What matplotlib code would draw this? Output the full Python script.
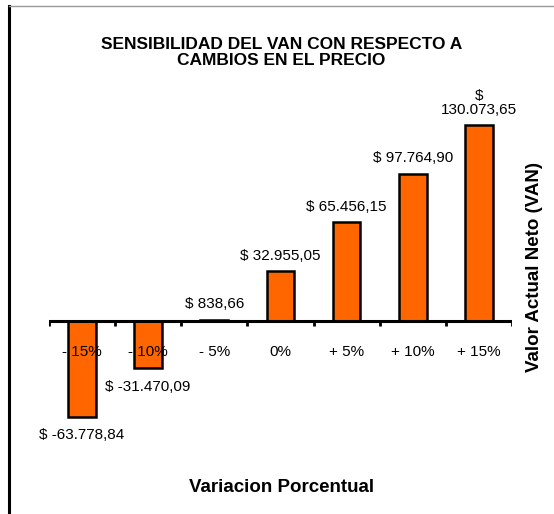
import matplotlib.pyplot as plt
import matplotlib.lines as mlines

plt.rcParams["font.family"] = ["Liberation Sans", "DejaVu Sans"]

categories = ["- 15%", "- 10%", "- 5%", "0%", "+ 5%", "+ 10%", "+ 15%"]
van_values = [-63778.84, -31470.09, 838.66, 32955.05, 65456.15, 97764.90, 130073.65]
value_labels = ["$ -63.778,84", "$ -31.470,09", "$ 838,66", "$ 32.955,05",
                "$ 65.456,15", "$ 97.764,90", "$\n130.073,65"]

fig = plt.figure(figsize=(5.54, 5.14), dpi=100, facecolor="white")
ax = fig.add_axes([0.0884, 0.141, 0.8357, 0.645])

x = list(range(len(categories)))

ax.bar(
    x,
    van_values,
    width=0.42,
    color="#FF6600",
    edgecolor="black",
    linewidth=1.8,
    zorder=3
)

ax.set_xlim(-0.5, len(categories) - 0.5)
ax.set_ylim(-80000, 140000)

# zero line with boundary ticks
ax.axhline(0, color="black", linewidth=2.2, zorder=4)
for b in range(len(categories) + 1):
    ax.plot([b - 0.5, b - 0.5], [0, -3300], color="black",
            linewidth=2.0, zorder=4, solid_capstyle="butt")

for xi, v, lab in zip(x, van_values, value_labels):
    if v >= 0:
        ax.annotate(lab, (xi, v), xytext=(0, 6), textcoords="offset points",
                    ha="center", va="bottom", fontsize=11, linespacing=1.0)
    else:
        ax.annotate(lab, (xi, v), xytext=(0, -8), textcoords="offset points",
                    ha="center", va="top", fontsize=11)

# category labels sit below the axis line, over the bars
for xi, cat in zip(x, categories):
    ax.annotate(cat, (xi, 0), xytext=(0, -22), textcoords="offset points",
                ha="center", va="center", fontsize=11, zorder=5)

ax.set_xticks([])
ax.set_yticks([])
for s in ax.spines.values():
    s.set_visible(False)

fig.text(0.508, 0.898, "SENSIBILIDAD DEL VAN CON RESPECTO A\nCAMBIOS EN EL PRECIO",
         ha="center", va="center", fontsize=12.5, fontweight="bold", linespacing=1.1)
fig.text(0.509, 0.052, "Variacion Porcentual", ha="center", va="center",
         fontsize=13.5, fontweight="bold")
fig.text(0.964, 0.48, "Valor Actual Neto (VAN)", ha="center", va="center",
         rotation=90, fontsize=13.5, fontweight="bold")

# outer frame: black left edge, grey top edge
fig.add_artist(mlines.Line2D([0.0163, 0.0163], [0.0, 0.989], color="black",
                             linewidth=2.2, transform=fig.transFigure))
fig.add_artist(mlines.Line2D([0.017, 1.0], [0.9885, 0.9885], color="#999999",
                             linewidth=1.0, transform=fig.transFigure))

fig.savefig("out.png", dpi=100, facecolor="white")
plt.close(fig)
